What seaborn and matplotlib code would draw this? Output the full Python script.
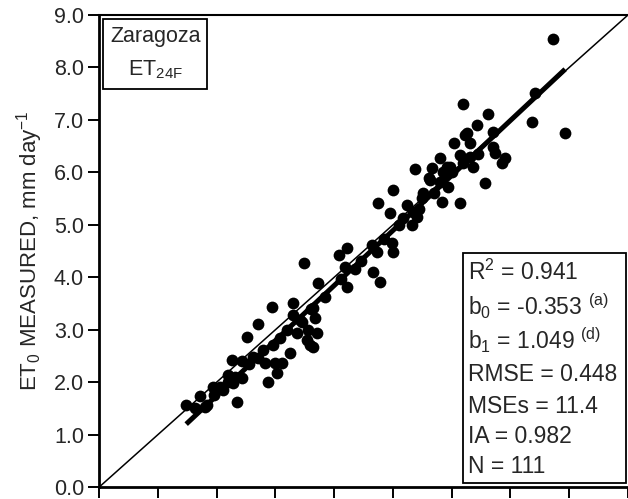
import numpy as np
import pandas as pd
import matplotlib
matplotlib.use("Agg")
import matplotlib.pyplot as plt
from matplotlib.patches import Rectangle
import seaborn as sns

# Daily reference ET: estimated (ET24F) vs. measured, Zaragoza, mm day-1
et_estimated = [
    1.48, 1.63, 1.72, 1.80, 1.84, 1.94, 2.06, 2.19, 2.26, 2.28,
    2.43, 2.35, 2.43, 2.31, 2.52, 2.70, 2.79, 2.82, 2.99, 3.03,
    2.87, 2.70, 2.94, 3.30, 3.30, 3.42, 3.67, 3.64, 3.71, 3.55,
    3.37, 3.54, 3.59, 3.64, 3.08, 3.25, 3.11, 3.49, 3.72, 4.12,
    4.22, 4.08, 4.22, 4.18, 4.64, 4.73, 4.66, 4.78, 4.98, 5.00,
    5.00, 4.74, 4.95, 5.24, 5.34, 5.32, 5.17, 5.41, 5.51, 5.63,
    5.37, 5.61, 5.66, 5.80, 5.92, 5.85, 5.80, 5.94, 5.83, 6.14,
    6.04, 6.22, 6.19, 6.43, 6.26, 6.31, 6.62, 6.70, 6.70, 6.73,
    6.90, 6.85, 6.14, 6.31, 5.97, 6.36, 6.19, 6.56, 7.36, 7.41,
    7.72, 7.93, 5.49, 1.95, 2.10, 2.20, 2.55, 2.62, 2.95, 3.20,
    3.45, 3.60, 3.85, 4.35, 4.45, 4.85, 5.10, 5.45, 5.70, 6.00,
    6.45,
]
et_measured = [
    1.56, 1.51, 1.74, 1.53, 1.56, 1.91, 1.91, 2.14, 2.42, 1.98,
    2.40, 1.62, 2.08, 2.10, 2.86, 2.46, 2.61, 2.36, 2.36, 2.17,
    2.00, 3.11, 3.43, 3.51, 3.28, 3.18, 3.22, 3.41, 2.94, 2.99,
    2.94, 2.80, 2.71, 2.67, 2.84, 2.56, 2.36, 4.27, 3.89, 3.97,
    3.81, 4.42, 4.56, 4.20, 4.61, 4.48, 4.10, 3.91, 4.65, 4.48,
    5.66, 5.42, 5.22, 5.38, 5.24, 5.00, 5.13, 5.15, 5.61, 5.85,
    6.06, 5.89, 6.08, 6.27, 6.10, 6.01, 5.82, 5.72, 5.43, 5.42,
    6.56, 6.71, 7.30, 6.90, 6.75, 6.56, 7.11, 6.77, 6.48, 6.37,
    6.27, 6.18, 6.33, 6.29, 6.10, 6.10, 6.18, 5.80, 6.96, 7.51,
    8.54, 6.75, 5.51, 1.75, 1.85, 2.00, 2.35, 2.48, 2.70, 3.00,
    3.15, 3.40, 3.62, 4.15, 4.30, 4.72, 5.00, 5.30, 5.60, 6.00,
    6.35,
]

# Fit statistics
b0 = -0.353
b1 = 1.049
stats_lines = [
    r"R$^{2}$ = 0.941",
    r"b$_{0}$ = -0.353 $^{(a)}$",
    r"b$_{1}$ = 1.049 $^{(d)}$",
    "RMSE = 0.448",
    "MSEs = 11.4",
    "IA = 0.982",
    "N = 111",
]
y_ticks = [0.0, 1.0, 2.0, 3.0, 4.0, 5.0, 6.0, 7.0, 8.0, 9.0]
x_ticks = [0, 1, 2, 3, 4, 5, 6, 7, 8, 9]

df = pd.DataFrame({"estimated": et_estimated, "measured": et_measured})

sns.set_theme(style="ticks")
plt.rcParams["font.family"] = ["Liberation Sans", "DejaVu Sans"]
plt.rcParams["mathtext.fontset"] = "custom"
plt.rcParams["mathtext.rm"] = "Liberation Sans"
plt.rcParams["mathtext.it"] = "Liberation Sans:italic"
plt.rcParams["mathtext.default"] = "regular"

fig = plt.figure(figsize=(6.28, 4.99), dpi=100)
ax = fig.add_axes([0.158, 0.024, 0.842, 0.946])

# 1:1 line
one_to_one = pd.DataFrame({"x": [0.0, 9.0], "y": [0.0, 9.0]})
sns.lineplot(data=one_to_one, x="x", y="y", ax=ax, color="black", lw=1.1)

# Fitted regression line over the observed range
xr = np.array([df["estimated"].min(), df["estimated"].max()])
reg = pd.DataFrame({"x": xr, "y": b0 + b1 * xr})
sns.lineplot(data=reg, x="x", y="y", ax=ax, color="black", lw=3.6,
             solid_capstyle="butt")

sns.scatterplot(data=df, x="estimated", y="measured", ax=ax,
                color="black", s=72, linewidth=0, zorder=3)

ax.set_xlim(0, 9)
ax.set_ylim(0, 9)
ax.set_xticks(x_ticks)
ax.set_xticklabels([])
ax.set_yticks(y_ticks)
ax.set_yticklabels([f"{v:.1f}" for v in y_ticks], fontsize=15.5)
ax.tick_params(axis="both", direction="out", length=8, width=1.4,
               color="black", pad=3)
ax.set_xlabel("")
ax.set_ylabel(r"ET$_{0}$ MEASURED, mm day$^{-1}$", fontsize=16, labelpad=6)

for side in ("left", "bottom"):
    ax.spines[side].set_linewidth(2.0)
ax.spines["top"].set_linewidth(1.5)
ax.spines["right"].set_visible(False)
for s in ax.spines.values():
    s.set_color("black")

# Site / model label box
ax.add_patch(Rectangle((0.0076, 0.843), 0.196, 0.1485, transform=ax.transAxes,
                       fill=False, edgecolor="black", lw=1.3, zorder=4))
ax.text(0.106, 0.955, "Zaragoza", transform=ax.transAxes, ha="center",
        va="center", fontsize=15.5)
ax.text(0.106, 0.884, r"ET$_{24F}$", transform=ax.transAxes, ha="center",
        va="center", fontsize=15.5)

# Statistics box
ax.add_patch(Rectangle((0.688, 0.0085), 0.308, 0.4875, transform=ax.transAxes,
                       fill=True, facecolor="white", edgecolor="black",
                       lw=1.3, zorder=4))
line_y = [272, 306, 340, 374, 406, 436, 466]
for txt, py in zip(stats_lines, line_y):
    ax.text(0.697, (487 - py) / 472, txt, transform=ax.transAxes,
            ha="left", va="center", fontsize=16.5, zorder=5)

fig.savefig("out.png", dpi=100)
